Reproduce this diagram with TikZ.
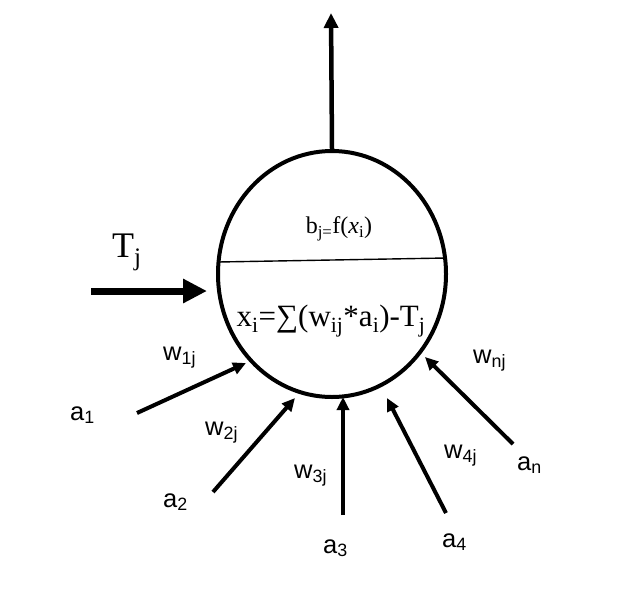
\documentclass[tikz,border=0pt]{standalone}
\usepackage{fontspec}
\setmainfont{Liberation Serif}
\newfontfamily\labelfont{Liberation Sans}
\usetikzlibrary{arrows.meta,shapes.geometric}
\begin{document}
\begin{tikzpicture}[x=1pt,y=-1pt,
  inarrow/.style={line width=4pt,-{Triangle[length=13pt,width=12pt]}},
  lbl/.style={font=\labelfont\fontsize{25.5}{27}\selectfont,inner sep=0pt,anchor=base west},
  serif/.style={inner sep=0pt}]
\useasboundingbox (0,0) rectangle (628,614);
\node[ellipse,draw,line width=4pt,minimum width=228pt,minimum height=246pt,inner sep=0pt] (neuron) at (332,274) {};
\coordinate (dl) at (218,262);
\coordinate (dr) at (446,258);
\draw[line width=1.4pt] (dl) -- (dr);
\node[serif,font=\fontsize{24}{26}\selectfont] (bj) at (339,229) {b\textsubscript{j=}f(\textit{x}\textsubscript{i})};
\node[serif,font=\fontsize{31}{33}\selectfont] (formula) at (331,321) {x\textsubscript{i}=∑(w\textsubscript{ij}*a\textsubscript{i})-T\textsubscript{j}};
% output
\coordinate (outtip) at (331,13);
\draw[line width=4.5pt,-{Triangle[length=15pt,width=14pt]}] (neuron.north) -- (outtip);
% threshold
\node[serif,font=\fontsize{36}{38}\selectfont,anchor=base west] (tj) at (112,257) {T\textsubscript{j}};
\coordinate (ttail) at (91,291);
\coordinate (ttip) at (207,291);
\draw[line width=7pt,-{Triangle[length=24pt,width=23pt]}] (ttail) -- (ttip);
% inputs
\coordinate (t1) at (137,413); \coordinate (h1) at (246,363);
\coordinate (t2) at (213,492); \coordinate (h2) at (295,398);
\coordinate (t3) at (343,515); \coordinate (h3) at (343,397);
\coordinate (t4) at (446,513); \coordinate (h4) at (387,398);
\coordinate (tn) at (513,444); \coordinate (hn) at (425,357);
\draw[inarrow] (t1) -- (h1);
\draw[inarrow] (t2) -- (h2);
\draw[inarrow] (t3) -- (h3);
\draw[inarrow] (t4) -- (h4);
\draw[inarrow] (tn) -- (hn);
\node[lbl] (a1) at (70,420) {a\textsubscript{1}};
\node[lbl] (a2) at (163,507) {a\textsubscript{2}};
\node[lbl] (a3) at (323,553) {a\textsubscript{3}};
\node[lbl] (a4) at (442,547) {a\textsubscript{4}};
\node[lbl] (an) at (517,470) {a\textsubscript{n}};
\node[lbl] (w1) at (163,360) {w\textsubscript{1j}};
\node[lbl] (w2) at (205,435) {w\textsubscript{2j}};
\node[lbl] (w3) at (294,478) {w\textsubscript{3j}};
\node[lbl] (w4) at (444,458) {w\textsubscript{4j}};
\node[lbl] (wn) at (473,363) {w\textsubscript{nj}};
\end{tikzpicture}
\end{document}
